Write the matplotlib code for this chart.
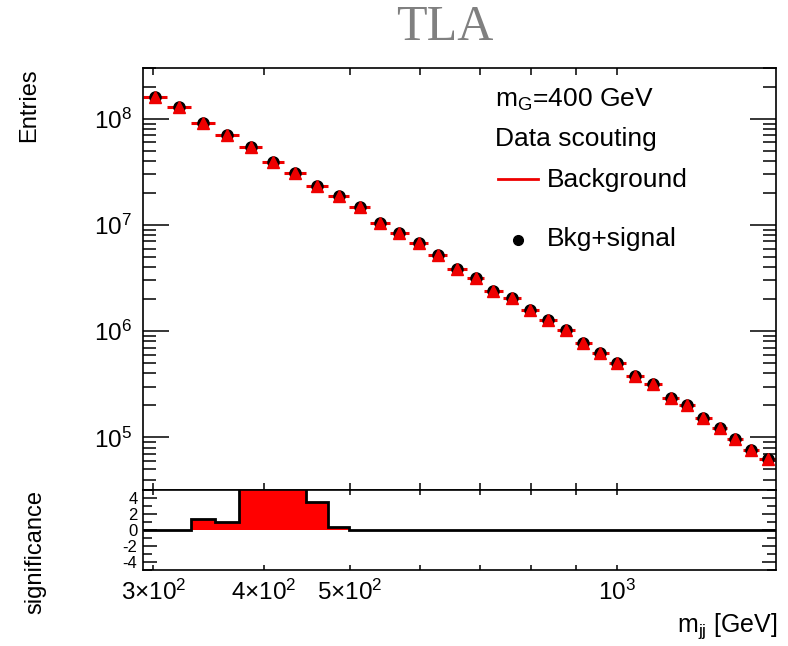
import numpy as np
import matplotlib
matplotlib.use("Agg")
import matplotlib.pyplot as plt
from matplotlib.ticker import FixedLocator, FuncFormatter, LogLocator, NullFormatter, MultipleLocator, NullLocator

plt.rcParams['font.family'] = ['Liberation Sans', 'DejaVu Sans']
plt.rcParams['mathtext.fontset'] = 'custom'
plt.rcParams['mathtext.rm'] = 'Liberation Sans'
plt.rcParams['mathtext.it'] = 'Liberation Sans:italic'
plt.rcParams['mathtext.bf'] = 'Liberation Sans:bold'
plt.rcParams['axes.unicode_minus'] = False

# ---- data ----
bin_edges = [292, 311, 331, 352, 375, 398, 421, 446, 472, 499, 527, 554, 583, 613,
             644, 677, 709, 743, 779, 816, 856, 896, 937, 979, 1024, 1073, 1125,
             1175, 1225, 1279, 1333, 1388, 1447, 1512]
bkg_plus_signal = [1.60e8, 1.29e8, 9.17e7, 6.96e7, 5.45e7, 3.94e7, 3.08e7, 2.32e7,
                   1.89e7, 1.46e7, 1.05e7, 8.46e6, 6.82e6, 5.18e6, 3.82e6, 3.19e6,
                   2.39e6, 2.07e6, 1.57e6, 1.27e6, 1.03e6, 7.81e5, 6.20e5, 5.07e5,
                   3.79e5, 3.19e5, 2.37e5, 2.01e5, 1.53e5, 1.22e5, 9.62e4, 7.63e4, 6.33e4]
background = [1.60e8, 1.29e8, 9.17e7, 6.96e7, 5.45e7, 3.94e7, 3.08e7, 2.32e7,
              1.89e7, 1.46e7, 1.05e7, 8.46e6, 6.82e6, 5.18e6, 3.82e6, 3.19e6,
              2.39e6, 2.07e6, 1.57e6, 1.27e6, 1.03e6, 7.81e5, 6.20e5, 5.07e5,
              3.79e5, 3.19e5, 2.37e5, 2.01e5, 1.53e5, 1.22e5, 9.62e4, 7.63e4, 6.33e4]
significance = [0, 0, 1.34, 1.04, 6.5, 7.5, 6.5, 3.46, 0.41, 0, 0, 0, 0, 0, 0, 0,
                0, 0, 0, 0, 0, 0, 0, 0, 0, 0, 0, 0, 0, 0, 0, 0, 0]
x_tick_values = [300, 400, 500, 600, 700, 800, 900, 1000]
x_tick_labels = {300: r'3×10$^{\mathregular{2}}$', 400: r'4×10$^{\mathregular{2}}$',
                 500: r'5×10$^{\mathregular{2}}$', 1000: r'10$^{\mathregular{3}}$'}

edges = np.array(bin_edges, dtype=float)
centers = np.sqrt(edges[:-1] * edges[1:])

W, H = 788, 646
fig = plt.figure(figsize=(W / 100, H / 100), dpi=100)

L, R = 143 / W, 776 / W
ax1 = fig.add_axes([L, 1 - 490 / H, R - L, (490 - 68) / H])
ax2 = fig.add_axes([L, 1 - 570 / H, R - L, (570 - 490) / H])

# ---- upper panel ----
ax1.hlines(background, edges[:-1], edges[1:], colors='#ee0000', lw=2.2, zorder=2)
ax1.plot(centers, bkg_plus_signal, 'o', color='black', ms=8, zorder=3)
ax1.plot(centers, background, '^', color='#ee0000', ms=8, mec='#ee0000', zorder=4)
ax1.set_xscale('log')
ax1.set_yscale('log')
ax1.set_xlim(edges[0], edges[-1])
ax1.set_ylim(3.2e4, 3e8)

fmt = FuncFormatter(lambda v, p: x_tick_labels.get(int(round(v)), ''))
for ax in (ax1, ax2):
    ax.xaxis.set_major_locator(FixedLocator(x_tick_values))
    ax.xaxis.set_minor_locator(NullLocator())
    ax.xaxis.set_major_formatter(fmt)
    for s in ax.spines.values():
        s.set_linewidth(1.2)

ax1.yaxis.set_major_locator(LogLocator(base=10))
ax1.yaxis.set_minor_locator(LogLocator(base=10, subs=np.arange(2, 10)))
ax1.yaxis.set_minor_formatter(NullFormatter())
ax1.tick_params(axis='y', which='major', direction='in', length=18.5, width=1.1,
                right=True, labelsize=17.5, pad=8)
ax1.tick_params(axis='y', which='minor', direction='in', length=9.4, width=1.1, right=True)
ax1.tick_params(axis='x', which='major', direction='in', length=5, width=1.1,
                top=True, labelbottom=False)

# ---- lower panel ----
ax2.stairs(significance, edges, fill=True, color='#ff0000', zorder=2)
ax2.stairs(significance, edges, color='black', lw=2.0, zorder=3)
ax2.set_xscale('log')
ax2.xaxis.set_major_locator(FixedLocator(x_tick_values))
ax2.xaxis.set_minor_locator(NullLocator())
ax2.xaxis.set_major_formatter(fmt)
ax2.set_xlim(edges[0], edges[-1])
ax2.set_ylim(-5, 5)
ax2.yaxis.set_major_locator(MultipleLocator(2))
ax2.yaxis.set_minor_locator(MultipleLocator(1))
ax2.tick_params(axis='y', which='major', direction='in', length=10, width=1.1,
                right=True, labelsize=12, pad=4)
ax2.tick_params(axis='y', which='minor', direction='in', length=6.5, width=1.1, right=True)
ax2.tick_params(axis='x', which='major', direction='in', length=3.6, width=1.1,
                top=True, labelsize=17.5, pad=7)

# ---- texts ----
fig.text(445 / W, 1 - 28 / H, 'TLA', family='Liberation Serif', fontsize=36,
         color='#808080', ha='center', va='center')
fig.text(29 / W, 1 - 68 / H, 'Entries', rotation=90, fontsize=17, ha='center', va='top')
fig.text(35 / W, 1 - 490 / H, 'significance', rotation=90, fontsize=17, ha='center', va='top')
fig.text(778 / W, 1 - 632 / H, r'm$_{\mathregular{jj}}$ [GeV]', fontsize=18,
         ha='right', va='baseline')

fig.text(495 / W, 1 - 106.7 / H, r'm$_{\mathregular{G}}$=400 GeV', fontsize=19, va='baseline')
fig.text(495 / W, 1 - 146 / H, 'Data scouting', fontsize=19, va='baseline')
fig.lines.append(plt.Line2D([498 / W, 538 / W], [1 - 179 / H, 1 - 179 / H],
                            transform=fig.transFigure, color='#ee0000', lw=2))
fig.text(547 / W, 1 - 186.7 / H, 'Background', fontsize=19, va='baseline')
fig.lines.append(plt.Line2D([518 / W], [1 - 240 / H], transform=fig.transFigure,
                            marker='o', color='black', ms=7, ls='none'))
fig.text(547 / W, 1 - 245.7 / H, 'Bkg+signal', fontsize=19, va='baseline')

fig.savefig('out.png', dpi=100)
